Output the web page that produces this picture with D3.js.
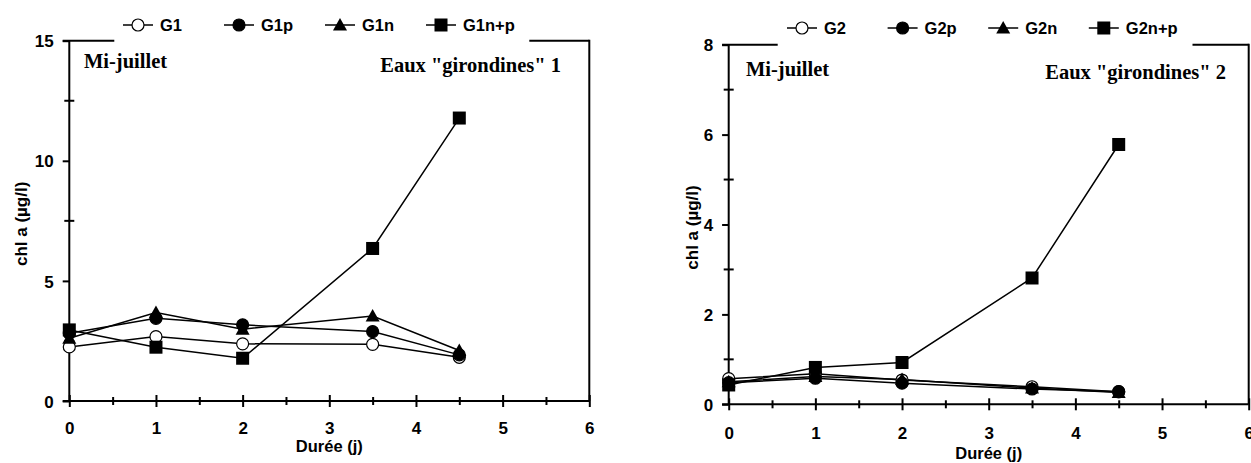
<!DOCTYPE html>
<html>
<head>
<meta charset="utf-8">
<script src="https://cdn.jsdelivr.net/npm/d3@7"></script>
<style>
  body { margin: 0; background: #fff; }
  svg { display: block; }
  text { font-family: "Liberation Sans", Arial, sans-serif; font-weight: bold; fill: #000; }
  .serif { font-family: "Liberation Serif", "Times New Roman", serif; }
</style>
</head>
<body>
<div id="chart"></div>
<script>
// sampling days (shared by both panels)
const days = [0, 1, 2, 3.5, 4.5];
const xTicks = [0, 1, 2, 3, 4, 5, 6];

// panel 1 : Eaux "girondines" 1
const names1 = ['G1', 'G1p', 'G1n', 'G1n+p'];
const g1 = [2.25, 2.68, 2.38, 2.36, 1.82];
const g1p = [2.82, 3.44, 3.17, 2.89, 1.92];
const g1n = [2.61, 3.68, 2.99, 3.54, 2.10];
const g1np = [2.96, 2.24, 1.78, 6.35, 11.78];
const yTicks1 = [0, 5, 10, 15];

// panel 2 : Eaux "girondines" 2
const names2 = ['G2', 'G2p', 'G2n', 'G2n+p'];
const g2 = [0.57, 0.68, 0.54, 0.39, 0.28];
const g2p = [0.48, 0.58, 0.47, 0.34, 0.28];
const g2n = [0.50, 0.62, 0.55, 0.36, 0.26];
const g2np = [0.43, 0.82, 0.93, 2.81, 5.78];
const yTicks2 = [0, 2, 4, 6, 8];

const markers = ['openCircle', 'circle', 'triangle', 'square'];

const svg = d3.select('#chart').append('svg')
  .attr('width', 1251).attr('height', 463);

const panels = [
  {
    names: names1, series: [g1, g1p, g1n, g1np], yTicks: yTicks1, yMax: 15, yMinor: 2.5,
    ax: 69.3, yTop: 40.7, y0: 401, gap: [114.3, 529.3],
    legX: 123, legStep: 101, legY: 25,
    miX: 84, miY: 68, eauX: 561, eauY: 71.5, label: 'Eaux "girondines" 1',
    xLabY: 434, titleY: 452, yTitleX: 27
  },
  {
    names: names2, series: [g2, g2p, g2n, g2np], yTicks: yTicks2, yMax: 8, yMinor: 1,
    ax: 728.7, yTop: 44.7, y0: 404.3, gap: [777.7, 1192.5],
    legX: 787, legStep: 100.6, legY: 28,
    miX: 746, miY: 75.7, eauX: 1226, eauY: 79, label: 'Eaux "girondines" 2',
    xLabY: 439, titleY: 459, yTitleX: 698
  }
];

function drawMarker(g, type, cx, cy) {
  if (type === 'openCircle' || type === 'circle') {
    g.append('circle').attr('cx', cx).attr('cy', cy).attr('r', 6)
      .attr('fill', type === 'circle' ? '#000' : '#fff')
      .attr('stroke', '#000').attr('stroke-width', 1.2);
  } else if (type === 'triangle') {
    g.append('path')
      .attr('d', `M${cx},${cy - 7}L${cx + 7},${cy + 5.5}L${cx - 7},${cy + 5.5}Z`)
      .attr('fill', '#000');
  } else {
    g.append('rect').attr('x', cx - 6.5).attr('y', cy - 6.5)
      .attr('width', 13).attr('height', 13).attr('fill', '#000');
  }
}

panels.forEach(p => {
  const x = d3.scaleLinear().domain([0, 6]).range([p.ax, p.ax + 520]);
  const y = d3.scaleLinear().domain([0, p.yMax]).range([p.y0, p.yTop]);
  const g = svg.append('g');

  // frame
  const frame = g.append('g').attr('stroke', '#000').attr('stroke-width', 2).attr('fill', 'none');
  frame.append('line').attr('x1', p.ax).attr('x2', p.ax).attr('y1', p.yTop).attr('y2', p.y0);
  frame.append('line').attr('x1', x(6)).attr('x2', x(6)).attr('y1', p.yTop - 1).attr('y2', p.y0);
  frame.append('line').attr('x1', p.ax - 6.6).attr('x2', x(6)).attr('y1', p.y0).attr('y2', p.y0);
  frame.append('line').attr('x1', p.ax - 6.6).attr('x2', p.gap[0]).attr('y1', p.yTop).attr('y2', p.yTop);
  frame.append('line').attr('x1', p.gap[1]).attr('x2', x(6)).attr('y1', p.yTop).attr('y2', p.yTop);

  // x axis
  const xAxis = g.append('g')
    .attr('transform', `translate(0,${p.y0})`)
    .call(d3.axisBottom(x).tickValues(d3.range(0, 6.01, 0.5)).tickSize(0)
      .tickFormat(d => Number.isInteger(d) && xTicks.includes(d) ? d : ''));
  xAxis.select('.domain').remove();
  xAxis.selectAll('line')
    .attr('stroke-width', 2)
    .attr('y1', d => Number.isInteger(d) ? -6 : -4)
    .attr('y2', d => Number.isInteger(d) ? 6 : 4);
  xAxis.selectAll('text')
    .attr('y', p.xLabY - p.y0).attr('dy', null)
    .style('font-size', '17px').style('font-family', null);

  // y axis
  const minors = d3.range(p.yMinor, p.yMax, p.yMinor).filter(v => !p.yTicks.includes(v));
  const yAxis = g.append('g')
    .attr('transform', `translate(${p.ax},0)`)
    .call(d3.axisLeft(y).tickValues(p.yTicks).tickSize(6.6).tickPadding(9));
  yAxis.select('.domain').remove();
  yAxis.selectAll('line').attr('stroke-width', 2);
  yAxis.selectAll('text').style('font-size', '17px').style('font-family', null).attr('dy', '0.36em');
  g.append('g').selectAll('line').data(minors).join('line')
    .attr('x1', p.ax - 5).attr('x2', p.ax + 5)
    .attr('y1', d => y(d)).attr('y2', d => y(d))
    .attr('stroke', '#000').attr('stroke-width', 2);

  // series
  const line = d3.line().x((d, i) => x(days[i])).y(d => y(d));
  p.series.forEach(s => {
    g.append('path').datum(s).attr('d', line)
      .attr('fill', 'none').attr('stroke', '#000').attr('stroke-width', 1.5);
  });
  p.series.forEach((s, k) => {
    s.forEach((v, i) => drawMarker(g, markers[k], x(days[i]), y(v)));
  });

  // legend
  p.names.forEach((n, k) => {
    const lx = p.legX + k * p.legStep;
    g.append('line').attr('x1', lx).attr('x2', lx + 30)
      .attr('y1', p.legY).attr('y2', p.legY)
      .attr('stroke', '#000').attr('stroke-width', 1.5);
    drawMarker(g, markers[k], lx + 15, p.legY);
    g.append('text').attr('x', lx + 37).attr('y', p.legY + 6)
      .style('font-size', '16.5px').text(n);
  });

  // annotations
  g.append('text').attr('class', 'serif').attr('x', p.miX).attr('y', p.miY)
    .style('font-size', '20.5px').text('Mi-juillet');
  g.append('text').attr('class', 'serif').attr('x', p.eauX).attr('y', p.eauY)
    .attr('text-anchor', 'end').style('font-size', '20.5px').text(p.label);

  // axis titles
  g.append('text').attr('x', (p.ax + x(6)) / 2).attr('y', p.titleY)
    .attr('text-anchor', 'middle').style('font-size', '16.5px').text('Durée (j)');
  g.append('text')
    .attr('transform', `translate(${p.yTitleX},${(p.yTop + p.y0) / 2 + 3}) rotate(-90)`)
    .attr('text-anchor', 'middle').style('font-size', '17px').text('chl a (µg/l)');
});
</script>
</body>
</html>
